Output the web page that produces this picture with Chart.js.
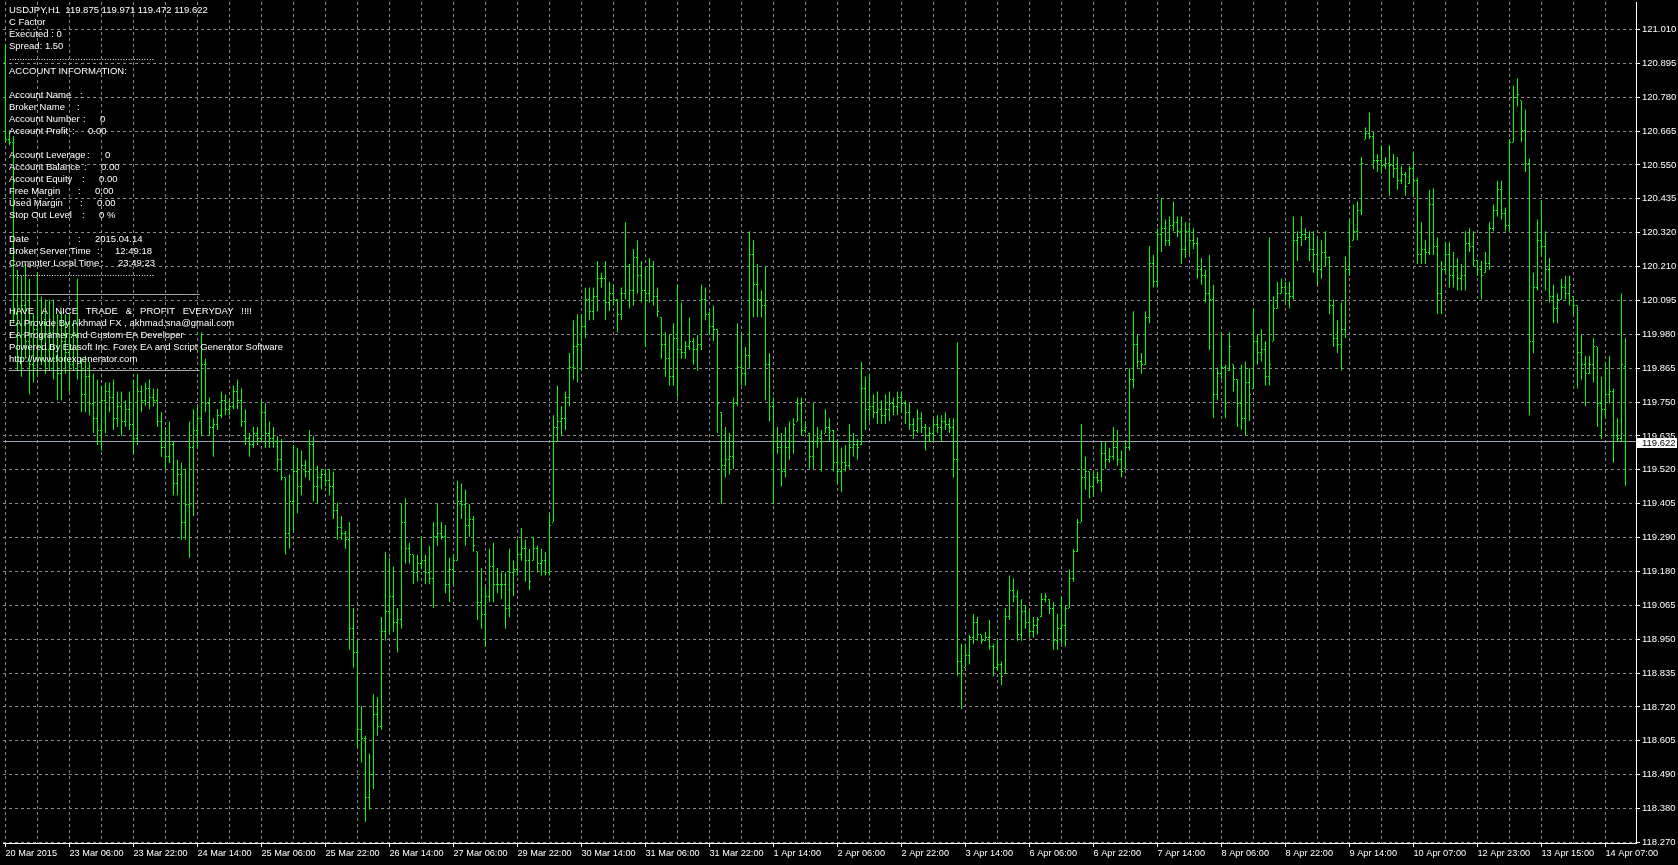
<!DOCTYPE html>
<html>
<head>
<meta charset="utf-8">
<title>USDJPY,H1</title>
<script src="https://cdn.jsdelivr.net/npm/chart.js@4.4.1/dist/chart.umd.min.js"></script>
<style>
  html, body { margin: 0; padding: 0; background: #000; }
  #wrap { position: relative; width: 1678px; height: 865px; overflow: hidden; background: #000; }
  #chart { position: absolute; left: 0; top: 0; }
  #info { position: absolute; left: 0; top: 0; color: #fff; font: 9.5px "Liberation Sans", Arial, sans-serif; }
  #info div { position: absolute; white-space: pre; line-height: 12px; }
</style>
</head>
<body>
<div id="wrap">
  <canvas id="chart" width="1678" height="865"></canvas>
  <div id="info"></div>
</div>
<script>
// time axis labels, one every 16 hourly bars
const xTickLabels = ["20 Mar 2015", "23 Mar 06:00", "23 Mar 22:00", "24 Mar 14:00", "25 Mar 06:00", "25 Mar 22:00",
  "26 Mar 14:00", "27 Mar 06:00", "29 Mar 22:00", "30 Mar 14:00", "31 Mar 06:00", "31 Mar 22:00", "1 Apr 14:00",
  "2 Apr 06:00", "2 Apr 22:00", "3 Apr 14:00", "6 Apr 06:00", "6 Apr 22:00", "7 Apr 14:00", "8 Apr 06:00",
  "8 Apr 22:00", "9 Apr 14:00", "10 Apr 07:00", "12 Apr 23:00", "13 Apr 15:00", "14 Apr 07:00"];

// price axis labels, top to bottom
const yTickLabels = ["121.010", "120.895", "120.780", "120.665", "120.550", "120.435", "120.320", "120.210",
  "120.095", "119.980", "119.865", "119.750", "119.635", "119.520", "119.405", "119.290", "119.180", "119.065",
  "118.950", "118.835", "118.720", "118.605", "118.490", "118.380", "118.270"];

// USDJPY H1 bars, 20 Mar 2015 -> 14 Apr 2015 12:00
const opens = [
  120.90,120.64,120.63,120.05,119.98,120.08,119.96,119.88,120.00,119.94,
  120.02,119.93,119.99,119.90,119.85,119.96,119.92,119.88,119.98,119.86,
  119.78,119.84,119.75,119.70,119.66,119.76,119.79,119.77,119.70,119.74,
  119.69,119.73,119.68,119.63,119.79,119.76,119.80,119.77,119.76,119.69,
  119.60,119.57,119.61,119.48,119.51,119.35,119.41,119.60,119.66,119.70,
  119.88,119.75,119.67,119.68,119.71,119.76,119.73,119.74,119.79,119.76,
  119.69,119.63,119.61,119.65,119.63,119.72,119.65,119.63,119.62,119.56,
  119.50,119.31,119.42,119.52,119.47,119.54,119.52,119.61,119.47,119.50,
  119.51,119.49,119.47,119.39,119.33,119.31,119.29,118.99,118.91,118.65,
  118.62,118.42,118.50,118.70,118.66,118.98,119.05,119.10,119.01,119.02,
  119.35,119.26,119.24,119.18,119.21,119.22,119.18,119.16,119.30,119.31,
  119.30,119.14,119.19,119.22,119.42,119.41,119.34,119.36,119.25,119.08,
  119.04,119.10,119.20,119.14,119.14,119.14,119.06,119.18,119.19,119.24,
  119.26,119.22,119.22,119.26,119.21,119.22,119.18,119.35,119.67,119.69,
  119.70,119.77,119.87,119.94,119.95,120.01,120.10,120.06,120.11,120.17,
  120.17,120.09,120.12,120.10,120.05,120.12,120.21,120.13,120.24,120.18,
  120.13,120.12,120.21,120.11,120.04,119.95,119.90,119.84,119.97,119.93,
  119.92,119.94,119.96,119.93,119.95,120.10,120.05,120.01,120.00,119.72,
  119.54,119.56,119.57,119.75,119.87,119.85,119.91,120.25,120.15,120.10,
  120.08,119.88,119.74,119.62,119.60,119.52,119.60,119.62,119.69,119.75,
  119.66,119.65,119.57,119.62,119.63,119.65,119.67,119.66,119.55,119.52,
  119.55,119.54,119.60,119.61,119.61,119.80,119.73,119.74,119.72,119.73,
  119.71,119.73,119.75,119.74,119.77,119.75,119.72,119.68,119.66,119.70,
  119.67,119.64,119.65,119.68,119.67,119.69,119.68,119.67,119.56,118.88,
  118.86,118.90,118.96,119.01,118.97,118.95,118.96,118.93,118.86,118.87,
  118.84,119.03,119.12,119.10,118.97,119.05,119.01,118.98,119.00,119.03,
  119.09,119.09,119.06,118.95,118.99,119.00,119.06,119.16,119.25,119.35,
  119.50,119.52,119.47,119.50,119.49,119.58,119.56,119.57,119.60,119.56,
  119.53,119.60,119.83,119.95,119.89,119.88,120.04,120.22,120.16,120.32,
  120.34,120.30,120.35,120.36,120.33,120.27,120.33,120.30,120.29,120.20,
  120.18,120.12,120.10,119.78,119.85,119.87,119.86,119.88,119.83,119.75,
  119.70,119.82,119.80,119.96,119.92,119.93,119.84,119.96,120.07,120.12,
  120.14,120.12,120.11,120.30,120.31,120.32,120.31,120.27,120.25,120.20,
  120.26,120.24,120.08,119.97,119.95,120.00,120.20,120.30,120.33,120.40,
  120.64,120.66,120.65,120.57,120.57,120.55,120.56,120.55,120.54,120.50,
  120.52,120.49,120.54,120.50,120.25,120.27,120.26,120.42,120.28,120.12,
  120.20,120.25,120.18,120.21,120.17,120.18,120.29,120.28,120.23,120.20,
  120.19,120.22,120.34,120.40,120.47,120.39,120.35,120.63,120.78,120.77,
  120.67,120.56,119.96,120.14,120.30,120.28,120.20,120.11,120.07,120.10,
  120.14,120.12,120.11,120.08,119.92,119.88,119.85,119.88,119.94,119.75,
  119.73,119.78,119.79,119.64,119.63,119.875];

const highs = [
  120.96,120.67,120.65,120.20,120.18,120.22,120.17,120.05,120.19,120.11,
  120.10,120.10,120.10,120.05,120.06,120.05,120.05,120.03,120.17,119.90,
  119.91,119.89,119.85,119.83,119.81,119.82,119.82,119.83,119.79,119.79,
  119.76,119.79,119.83,119.85,119.81,119.82,119.83,119.80,119.80,119.72,
  119.67,119.69,119.62,119.56,119.55,119.53,119.69,119.73,119.74,119.99,
  119.90,119.77,119.70,119.73,119.79,119.78,119.76,119.81,119.83,119.80,
  119.73,119.65,119.67,119.67,119.76,119.75,119.69,119.67,119.64,119.63,
  119.50,119.51,119.61,119.60,119.59,119.56,119.66,119.64,119.54,119.53,
  119.53,119.53,119.52,119.415,119.37,119.32,119.35,119.06,118.95,118.73,
  118.63,118.57,118.77,118.76,119.03,119.25,119.23,119.20,119.06,119.41,
  119.43,119.28,119.24,119.24,119.30,119.24,119.27,119.35,119.41,119.35,
  119.34,119.23,119.24,119.49,119.48,119.46,119.41,119.37,119.25,119.195,
  119.13,119.26,119.28,119.195,119.18,119.18,119.26,119.22,119.29,119.33,
  119.29,119.26,119.30,119.27,119.26,119.25,119.38,119.71,119.81,119.74,
  119.79,119.92,120.03,120.05,120.05,120.14,120.14,120.14,120.23,120.19,
  120.23,120.16,120.15,120.10,120.14,120.36,120.22,120.27,120.30,120.23,
  120.21,120.24,120.23,120.14,120.04,119.99,119.98,120.02,120.15,120.09,
  119.96,120.04,119.97,119.98,120.15,120.14,120.06,120.08,120.00,119.72,
  119.67,119.65,119.77,120.02,119.98,119.94,120.33,120.30,120.22,120.13,
  120.21,119.92,119.77,119.67,119.65,119.67,119.69,119.70,119.77,119.77,
  119.69,119.65,119.75,119.67,119.66,119.73,119.70,119.66,119.63,119.60,
  119.61,119.68,119.65,119.63,119.89,119.84,119.85,119.78,119.79,119.76,
  119.78,119.79,119.77,119.79,119.79,119.76,119.75,119.70,119.73,119.72,
  119.68,119.67,119.70,119.71,119.71,119.72,119.70,119.70,119.955,118.94,
  118.94,118.97,119.04,119.03,118.97,118.98,119.02,118.94,118.955,118.88,
  119.06,119.17,119.16,119.12,119.09,119.07,119.05,119.03,119.03,119.11,
  119.11,119.09,119.08,119.04,119.10,119.07,119.19,119.26,119.36,119.68,
  119.57,119.52,119.52,119.52,119.62,119.62,119.60,119.67,119.66,119.59,
  119.62,119.87,120.06,119.98,119.92,120.06,120.28,120.25,120.34,120.44,
  120.37,120.38,120.43,120.38,120.38,120.36,120.36,120.34,120.31,120.24,
  120.20,120.25,120.15,119.87,119.99,119.88,119.99,119.88,119.83,119.88,
  119.89,119.87,120.07,119.98,120.00,119.96,120.31,120.11,120.16,120.17,
  120.16,120.16,120.38,120.33,120.38,120.34,120.33,120.33,120.31,120.30,
  120.33,120.245,120.10,120.03,120.09,120.245,120.37,120.42,120.43,120.58,
  120.68,120.73,120.665,120.59,120.62,120.58,120.62,120.59,120.58,120.55,
  120.53,120.55,120.60,120.51,120.36,120.30,120.47,120.475,120.31,120.23,
  120.295,120.295,120.26,120.24,120.22,120.33,120.34,120.33,120.23,120.23,
  120.26,120.36,120.42,120.50,120.50,120.41,120.64,120.82,120.845,120.77,
  120.74,120.575,120.19,120.37,120.435,120.33,120.24,120.15,120.12,120.17,
  120.18,120.18,120.11,120.08,119.98,119.91,119.91,119.97,119.94,119.84,
  119.89,119.91,119.80,119.70,120.12,119.971];

const lows = [
  120.63,120.62,120.02,119.86,119.84,119.90,119.78,119.82,119.84,119.88,
  119.85,119.86,119.83,119.76,119.76,119.85,119.79,119.86,119.83,119.72,
  119.72,119.71,119.65,119.61,119.59,119.65,119.72,119.66,119.67,119.64,
  119.67,119.66,119.58,119.61,119.72,119.74,119.73,119.74,119.67,119.57,
  119.53,119.55,119.44,119.44,119.29,119.29,119.23,119.37,119.60,119.64,
  119.72,119.64,119.57,119.66,119.70,119.71,119.71,119.73,119.73,119.67,
  119.61,119.57,119.60,119.61,119.62,119.60,119.60,119.60,119.52,119.49,
  119.24,119.26,119.32,119.38,119.44,119.50,119.49,119.42,119.41,119.46,
  119.47,119.44,119.36,119.29,119.29,119.26,118.92,118.86,118.59,118.54,
  118.34,118.38,118.45,118.63,118.65,118.95,118.97,118.98,118.91,118.99,
  119.21,119.21,119.14,119.15,119.19,119.14,119.14,119.06,119.27,119.29,
  119.11,119.08,119.14,119.22,119.36,119.27,119.30,119.25,119.02,118.99,
  118.93,119.08,119.08,119.11,119.09,118.99,119.03,119.10,119.17,119.22,
  119.15,119.12,119.22,119.18,119.17,119.17,119.17,119.35,119.62,119.64,
  119.66,119.74,119.83,119.82,119.86,119.97,120.03,120.03,120.06,120.14,
  120.03,120.06,120.08,119.99,120.03,120.10,120.07,120.08,120.12,120.09,
  119.94,120.09,120.08,120.04,119.90,119.84,119.81,119.81,119.77,119.90,
  119.90,119.93,119.88,119.86,119.93,120.03,119.98,119.96,119.65,119.41,
  119.50,119.51,119.53,119.74,119.81,119.81,119.87,120.04,120.04,120.04,
  119.76,119.69,119.41,119.58,119.47,119.50,119.56,119.58,119.69,119.64,
  119.65,119.53,119.53,119.60,119.52,119.65,119.62,119.52,119.48,119.45,
  119.52,119.53,119.57,119.56,119.61,119.66,119.69,119.70,119.68,119.68,
  119.68,119.69,119.71,119.71,119.72,119.68,119.66,119.63,119.65,119.65,
  119.59,119.62,119.62,119.65,119.62,119.66,119.65,119.50,118.83,118.72,
  118.86,118.87,118.94,118.95,118.94,118.95,118.92,118.83,118.85,118.80,
  118.84,119.02,119.08,118.95,118.95,118.99,118.96,118.96,118.97,119.03,
  119.08,119.04,118.92,118.92,118.94,118.93,119.06,119.15,119.25,119.35,
  119.46,119.43,119.44,119.48,119.45,119.53,119.55,119.56,119.54,119.50,
  119.53,119.59,119.80,119.87,119.85,119.88,120.02,120.14,120.14,120.26,
  120.28,120.28,120.33,120.31,120.22,120.24,120.25,120.27,120.17,120.15,
  120.09,119.93,119.70,119.76,119.83,119.70,119.86,119.79,119.67,119.66,
  119.64,119.69,119.80,119.88,119.89,119.81,119.81,119.96,120.07,120.12,
  120.09,120.07,120.10,120.23,120.28,120.30,120.23,120.19,120.15,120.17,
  120.21,120.05,119.94,119.92,119.86,119.97,120.18,120.30,120.30,120.385,
  120.64,120.64,120.54,120.53,120.525,120.54,120.45,120.51,120.47,120.49,
  120.45,120.49,120.45,120.22,120.22,120.22,120.25,120.25,120.05,120.05,
  120.19,120.14,120.14,120.13,120.13,120.13,120.26,120.21,120.18,120.10,
  120.19,120.20,120.33,120.38,120.37,120.33,120.33,120.63,120.75,120.63,
  120.53,119.71,119.92,120.13,120.245,120.13,120.09,120.02,120.02,120.10,
  120.10,120.08,120.05,119.80,119.83,119.74,119.85,119.82,119.67,119.63,
  119.70,119.75,119.55,119.62,119.62,119.472];

const closes = [
  120.64,120.63,120.05,119.98,120.08,119.96,119.88,120.00,119.94,120.02,
  119.93,119.99,119.90,119.85,119.96,119.92,119.88,119.98,119.86,119.78,
  119.84,119.75,119.70,119.66,119.76,119.79,119.77,119.70,119.74,119.69,
  119.73,119.68,119.63,119.79,119.76,119.80,119.77,119.76,119.69,119.60,
  119.57,119.61,119.48,119.51,119.35,119.41,119.60,119.66,119.70,119.88,
  119.75,119.67,119.68,119.71,119.76,119.73,119.74,119.79,119.76,119.69,
  119.63,119.61,119.65,119.63,119.72,119.65,119.63,119.62,119.56,119.50,
  119.31,119.42,119.52,119.47,119.54,119.52,119.61,119.47,119.50,119.51,
  119.49,119.47,119.39,119.33,119.31,119.29,118.99,118.91,118.65,118.62,
  118.42,118.50,118.70,118.66,118.98,119.05,119.10,119.01,119.02,119.35,
  119.26,119.24,119.18,119.21,119.22,119.18,119.16,119.30,119.31,119.30,
  119.14,119.19,119.22,119.42,119.41,119.34,119.36,119.27,119.08,119.04,
  119.10,119.20,119.14,119.14,119.14,119.06,119.18,119.19,119.24,119.26,
  119.22,119.15,119.26,119.21,119.22,119.18,119.34,119.67,119.69,119.70,
  119.77,119.87,119.94,119.95,120.01,120.10,120.06,120.11,120.17,120.17,
  120.09,120.12,120.10,120.05,120.12,120.21,120.13,120.24,120.18,120.13,
  120.12,120.21,120.11,120.06,119.95,119.90,119.84,119.97,119.93,119.92,
  119.94,119.96,119.93,119.95,120.10,120.05,120.01,120.00,119.75,119.54,
  119.56,119.57,119.75,119.87,119.85,119.91,120.25,120.15,120.10,120.08,
  119.88,119.74,119.62,119.60,119.52,119.60,119.62,119.68,119.75,119.66,
  119.67,119.57,119.62,119.63,119.62,119.67,119.66,119.55,119.52,119.55,
  119.54,119.60,119.61,119.60,119.80,119.73,119.74,119.72,119.73,119.71,
  119.73,119.75,119.74,119.77,119.75,119.72,119.68,119.66,119.70,119.67,
  119.64,119.65,119.68,119.67,119.69,119.68,119.67,119.56,118.88,118.85,
  118.90,118.96,119.01,118.97,118.95,118.96,118.93,118.86,118.87,118.83,
  119.03,119.12,119.10,118.97,119.05,119.01,118.98,119.00,119.02,119.09,
  119.10,119.06,118.95,118.99,119.00,119.06,119.16,119.25,119.35,119.50,
  119.52,119.47,119.50,119.49,119.58,119.56,119.57,119.60,119.56,119.52,
  119.60,119.83,119.95,119.89,119.88,120.04,120.22,120.16,120.32,120.34,
  120.30,120.35,120.36,120.33,120.27,120.33,120.30,120.29,120.20,120.18,
  120.12,120.10,119.78,119.85,119.87,119.75,119.94,119.83,119.75,119.70,
  119.82,119.78,119.96,119.92,119.93,119.84,119.88,120.07,120.12,120.14,
  120.12,120.11,120.30,120.31,120.32,120.31,120.27,120.25,120.20,120.26,
  120.24,120.08,119.97,119.95,120.00,120.20,120.28,120.33,120.40,120.56,
  120.66,120.65,120.57,120.57,120.55,120.56,120.55,120.54,120.50,120.52,
  120.48,120.54,120.50,120.25,120.27,120.26,120.42,120.28,120.12,120.20,
  120.25,120.18,120.21,120.17,120.18,120.29,120.28,120.23,120.20,120.18,
  120.22,120.34,120.40,120.47,120.39,120.35,120.63,120.78,120.79,120.67,
  120.56,119.96,120.14,120.30,120.28,120.20,120.11,120.07,120.10,120.14,
  120.12,120.15,120.08,119.92,119.88,119.85,119.88,119.94,119.75,119.73,
  119.78,119.79,119.64,119.63,119.88,119.622];

const BAR_COLOR = "#00ff00";
const GRID_COLOR = "#8c8c8c";
const BID_COLOR = "#9aa6b4";
const FONT = { family: "'Liberation Sans', Arial, sans-serif", size: 9.5 };
const X_FONT = { family: "'Liberation Sans', Arial, sans-serif", size: 9.2 };

const yLow = parseFloat(yTickLabels[yTickLabels.length - 1]);
const yStep = (parseFloat(yTickLabels[0]) - yLow) / (yTickLabels.length - 1);
const lastClose = closes[closes.length - 1];

// left info panel drawn by the EA
const infoLines = [
  [10, [[9, "USDJPY,H1  119.875 119.971 119.472 119.622"]]],
  [22, [[9, "C Factor"]]],
  [34, [[9, "Executed : 0"]]],
  [46, [[9, "Spread: 1.50"]]],
  [57, [[9, "......................................................."]]],
  [71, [[9, "ACCOUNT INFORMATION:"]]],
  [95, [[9, "Account Name"], [80, ":"]]],
  [107, [[9, "Broker Name"], [77, ":"]]],
  [119, [[9, "Account Number"], [83, ":"], [100, "0"]]],
  [131, [[9, "Account Profit"], [72, ":"], [88, "0.00"]]],
  [155, [[9, "Account Leverage"], [87, ":"], [105, "0"]]],
  [167, [[9, "Account Balance"], [84, ":"], [101, "0.00"]]],
  [179, [[9, "Account Equity"], [82, ":"], [99, "0.00"]]],
  [191, [[9, "Free Margin"], [78, ":"], [95, "0.00"]]],
  [203, [[9, "Used Margin"], [80, ":"], [97, "0.00"]]],
  [215, [[9, "Stop Out Level"], [82, ":"], [99, "0 %"]]],
  [239, [[9, "Date"], [78, ":"], [95, "2015.04.14"]]],
  [251, [[9, "Broker Server Time"], [97, ":"], [115, "12:49:18"]]],
  [263, [[9, "Computer Local Time"], [101, ":"], [118, "23:49:23"]]],
  [273, [[9, "......................................................."]]],
  [290, [[9, "____________________________________"]]],
  [311, [[9, "HAVE   A   NICE   TRADE   &   PROFIT   EVERYDAY   !!!!"]]],
  [323, [[9, "EA Provide By Akhmad FX , akhmad.sna@gmail.com"]]],
  [335, [[9, "EA Programer And Custom EA Developer"]]],
  [347, [[9, "Powered By Etasoft Inc. Forex EA and Script Generator Software"]]],
  [359, [[9, "http://www.forexgenerator.com"]]],
  [366, [[9, "____________________________________"]]]
];

const info = document.getElementById("info");
infoLines.forEach(([yc, parts]) => {
  parts.forEach(([x, text]) => {
    const d = document.createElement("div");
    d.textContent = text;
    d.style.left = x + "px";
    d.style.top = (yc - 6) + "px";
    info.appendChild(d);
  });
});

// open / close ticks of each bar
const ohlcTicks = {
  id: "ohlcTicks",
  afterDatasetsDraw(chart) {
    const { ctx, chartArea: a, scales: { x, y } } = chart;
    ctx.save();
    ctx.beginPath();
    ctx.rect(a.left, a.top, a.right - a.left, a.bottom - a.top);
    ctx.clip();
    ctx.fillStyle = BAR_COLOR;
    for (let i = 0; i < opens.length; i++) {
      const px = Math.floor(x.getPixelForValue(i));
      ctx.fillRect(px - 1, Math.floor(y.getPixelForValue(opens[i])), 1, 1);
      ctx.fillRect(px + 1, Math.floor(y.getPixelForValue(closes[i])), 1, 1);
    }
    ctx.restore();
  }
};

// bid line + price label on the right axis
const bidLine = {
  id: "bidLine",
  beforeDatasetsDraw(chart) {
    const { ctx, chartArea: a, scales: { y } } = chart;
    const py = Math.round(y.getPixelForValue(lastClose)) + 0.5;
    ctx.save();
    ctx.strokeStyle = BID_COLOR;
    ctx.lineWidth = 1;
    ctx.beginPath();
    ctx.moveTo(a.left, py);
    ctx.lineTo(a.right, py);
    ctx.stroke();
    ctx.restore();
  },
  afterDraw(chart) {
    const { ctx, chartArea: a, scales: { y } } = chart;
    const py = Math.round(y.getPixelForValue(lastClose));
    ctx.save();
    ctx.fillStyle = "#fff";
    ctx.fillRect(a.right + 1, py - 3, 40, 10);
    ctx.fillStyle = "#000";
    ctx.font = FONT.size + "px " + FONT.family;
    ctx.textBaseline = "middle";
    ctx.fillText(lastClose.toFixed(3), a.right + 6, py + 2);
    ctx.restore();
  }
};

new Chart(document.getElementById("chart"), {
  type: "bar",
  data: {
    datasets: [{
      data: highs.map((h, i) => ({ x: i, y: [lows[i], h] })),
      backgroundColor: BAR_COLOR,
      borderWidth: 0,
      barThickness: 1,
      inflateAmount: 0
    }]
  },
  options: {
    responsive: false,
    devicePixelRatio: 1,
    animation: false,
    layout: { padding: { left: 3, top: 2, right: 0, bottom: 0 } },
    plugins: { legend: { display: false }, tooltip: { enabled: false } },
    scales: {
      x: {
        type: "linear",
        offset: false,
        min: -0.625,
        max: 407.625,
        afterBuildTicks: s => {
          const t = [];
          for (let v = 0; v <= (xTickLabels.length - 1) * 16; v += 8) t.push({ value: v });
          s.ticks = t;
        },
        afterFit: s => { s.height = 22; s.paddingLeft = 0; s.paddingRight = 0; },
        ticks: {
          autoSkip: false, maxRotation: 0, minRotation: 0, align: "start",
          color: "#fff", font: X_FONT, padding: 1,
          callback: v => (v % 16 === 0 ? xTickLabels[v / 16] : "")
        },
        grid: {
          color: GRID_COLOR, lineWidth: 1, offset: false, tickLength: 4,
          tickColor: c => (c.tick && c.tick.value % 16 === 0 ? "#fff" : "rgba(0,0,0,0)")
        },
        border: { display: true, color: "#fff", width: 1, dash: [3, 3] }
      },
      y: {
        type: "linear",
        position: "right",
        min: 118.2683,
        max: 121.1026,
        afterBuildTicks: s => {
          s.ticks = yTickLabels.map((_, k) => ({ value: yLow + k * yStep }));
        },
        afterFit: s => { s.width = 42; s.paddingTop = 0; s.paddingBottom = 0; },
        ticks: {
          autoSkip: false, color: "#fff", font: FONT, padding: 2,
          callback: (v, idx) => yTickLabels[yTickLabels.length - 1 - idx]
        },
        grid: { color: GRID_COLOR, lineWidth: 1, tickLength: 4, tickColor: "#fff" },
        border: { display: true, color: "#fff", width: 1, dash: [3, 3] }
      }
    }
  },
  plugins: [bidLine, ohlcTicks]
});
</script>
</body>
</html>
